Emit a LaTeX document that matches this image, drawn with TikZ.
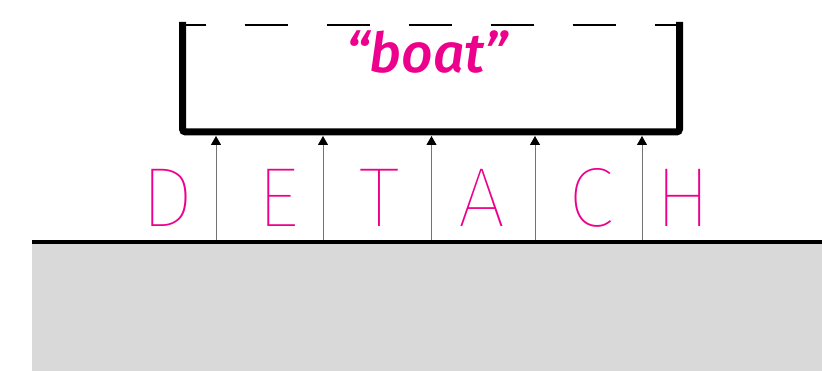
\documentclass[tikz,border=0pt]{standalone}
\usepackage{fontspec}
\setmainfont{Fira Sans}
\newfontfamily\thinfont{Fira Sans Thin}
\newfontfamily\boatfont{Fira Sans Medium Italic}
\usetikzlibrary{arrows.meta}
\definecolor{mag}{HTML}{EC008C}
\definecolor{ground}{HTML}{D9D9D9}
\tikzset{
  letter/.style={anchor=base, text=mag, font=\thinfont\fontsize{84}{84}\selectfont, inner sep=0pt},
  lift/.style={draw=black!55, line width=0.9pt, -{Triangle[width=10pt,length=9pt,color=black]}},
  hull/.style={line width=7pt, rounded corners=3pt},
  deck/.style={line width=2pt, dash pattern=on 43pt off 39pt, dash phase=20pt},
}
\begin{document}
\begin{tikzpicture}[x=1pt,y=-1pt]
\useasboundingbox (0,0) rectangle (822,371);
% ground
\fill[ground] (32,242) rectangle (822,371);
\coordinate (gl) at (32,242);
\coordinate (gr) at (822,242);
\draw[line width=4pt] (gl) -- (gr);
% boat
\coordinate (tl) at (182.5,22);
\coordinate (bl) at (182.5,132);
\coordinate (br) at (679.5,132);
\coordinate (tr) at (679.5,22);
\coordinate (dl) at (182.5,25);
\coordinate (dr) at (679.5,25);
\draw[deck] (dl) -- (dr);
\draw[hull] (tl) -- (bl) -- (br) -- (tr);
\node[anchor=base, text=mag, font=\boatfont\fontsize{55}{55}\selectfont, inner sep=0pt] (boat) at (427,73) {“boat”};
% letters
\node[letter] (D) at (167,227) {D};
\node[letter] (E) at (278,227) {E};
\node[letter] (T) at (379,227) {T};
\node[letter] (A) at (482,227) {A};
\node[letter] (C) at (591,227) {C};
\node[letter] (H) at (683,227) {H};
% arrows
\foreach \i/\x in {1/216,2/323,3/431.5,4/535,5/642}{
  \coordinate (s\i) at (\x,240);
  \coordinate (e\i) at (\x,136);
  \draw[lift] (s\i) -- (e\i);
}
\end{tikzpicture}
\end{document}
